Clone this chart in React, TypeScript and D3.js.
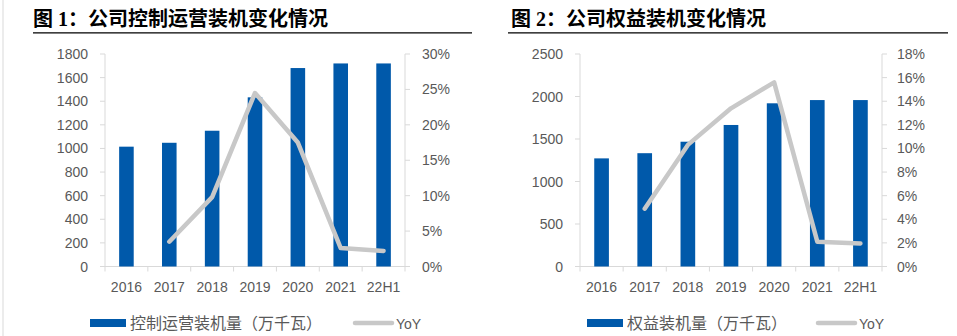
import React from "react";
import * as d3 from "d3";

const categories = ["2016", "2017", "2018", "2019", "2020", "2021", "22H1"];

const controlCapacity = [1015, 1048, 1150, 1433, 1681, 1720, 1720];
const controlYoY: (number | null)[] = [null, 3.5, 9.8, 24.5, 17.5, 2.6, 2.2];
const controlLeftTicks = [0, 200, 400, 600, 800, 1000, 1200, 1400, 1600, 1800];
const controlRightTicks = [0, 5, 10, 15, 20, 25, 30];

const equityCapacity = [1272, 1333, 1468, 1665, 1920, 1958, 1958];
const equityYoY: (number | null)[] = [null, 4.9, 10.3, 13.4, 15.6, 2.1, 1.95];
const equityLeftTicks = [0, 500, 1000, 1500, 2000, 2500];
const equityRightTicks = [0, 2, 4, 6, 8, 10, 12, 14, 16, 18];

const BAR = "#0059aa";
const LINE = "#c8c8c8";
const AXIS = "#d9d9d9";
const TEXT = "#595959";
const LATIN = "'Liberation Sans', Arial, 'Noto Sans CJK SC', sans-serif";
const CJK = "'Noto Sans CJK SC', sans-serif";

type ChartProps = {
  title: string;
  titleX: number;
  ruleX0: number;
  ruleX1: number;
  x0: number;
  x1: number;
  values: number[];
  yoy: (number | null)[];
  leftTicks: number[];
  rightTicks: number[];
  leftLabelGap: number;
  rightLabelGap: number;
  legendLabel: string;
  legendX: number;
  yoyLegendX: number;
};

function Chart(p: ChartProps) {
  const yTop = 54;
  const yBase = 266.5;
  const x = d3
    .scaleBand<string>()
    .domain(categories)
    .range([p.x0, p.x1])
    .paddingInner(0.66)
    .paddingOuter(0.33);
  const yL = d3
    .scaleLinear()
    .domain([0, p.leftTicks[p.leftTicks.length - 1]])
    .range([yBase, yTop]);
  const yR = d3
    .scaleLinear()
    .domain([0, p.rightTicks[p.rightTicks.length - 1]])
    .range([yBase, yTop]);
  const step = x.step();
  const line = d3
    .line<[string, number | null]>()
    .defined((d) => d[1] != null)
    .x((d) => (x(d[0]) as number) + x.bandwidth() / 2)
    .y((d) => yR(d[1] as number));
  const pts = categories.map((c, i) => [c, p.yoy[i]] as [string, number | null]);
  const bounds = d3.range(categories.length + 1).map((i) => p.x0 + i * step);

  return (
    <g>
      <text
        x={p.titleX}
        y={26}
        fontFamily={"'Liberation Serif', 'Noto Sans CJK SC', serif"}
        fontWeight="bold"
        fontSize={20}
        fill="#000"
      >
        {p.title}
      </text>
      <line x1={p.ruleX0} x2={p.ruleX1} y1={32.8} y2={32.8} stroke="#000" strokeWidth={1.3} />

      {/* axes */}
      <line x1={p.x0} x2={p.x0} y1={yTop} y2={yBase} stroke={AXIS} strokeWidth={1} />
      <line x1={p.x1} x2={p.x1} y1={yTop} y2={yBase} stroke={AXIS} strokeWidth={1} />
      <line x1={p.x0} x2={p.x1} y1={yBase} y2={yBase} stroke={AXIS} strokeWidth={1} />
      {p.leftTicks.map((t) => (
        <g key={"l" + t}>
          <line x1={p.x0 - 5} x2={p.x0} y1={yL(t)} y2={yL(t)} stroke={AXIS} />
          <text
            x={p.x0 - p.leftLabelGap}
            y={yL(t) + 5}
            textAnchor="end"
            fontFamily={LATIN}
            fontSize={14}
            fill={TEXT}
          >
            {t}
          </text>
        </g>
      ))}
      {p.rightTicks.map((t) => (
        <g key={"r" + t}>
          <line x1={p.x1} x2={p.x1 + 5} y1={yR(t)} y2={yR(t)} stroke={AXIS} />
          <text
            x={p.x1 + p.rightLabelGap}
            y={yR(t) + 5}
            textAnchor="start"
            fontFamily={LATIN}
            fontSize={14}
            fill={TEXT}
          >
            {t + "%"}
          </text>
        </g>
      ))}
      {bounds.map((b, i) => (
        <line key={"b" + i} x1={b} x2={b} y1={yBase} y2={yBase + 5} stroke={AXIS} />
      ))}
      {categories.map((c) => (
        <text
          key={"c" + c}
          x={(x(c) as number) + x.bandwidth() / 2}
          y={292}
          textAnchor="middle"
          fontFamily={LATIN}
          fontSize={14}
          fill={TEXT}
        >
          {c}
        </text>
      ))}

      {/* bars */}
      {categories.map((c, i) => (
        <rect
          key={"bar" + c}
          x={x(c)}
          y={yL(p.values[i])}
          width={x.bandwidth()}
          height={yBase - yL(p.values[i])}
          fill={BAR}
        />
      ))}
      <path
        d={line(pts) || ""}
        fill="none"
        stroke={LINE}
        strokeWidth={4.5}
        strokeLinejoin="round"
        strokeLinecap="round"
      />

      {/* legend */}
      <rect x={p.legendX} y={319} width={36} height={8} fill={BAR} />
      <text x={p.legendX + 40} y={329} fontFamily={CJK} fontSize={16} fill={TEXT}>
        {p.legendLabel}
      </text>
      <line
        x1={p.yoyLegendX}
        x2={p.yoyLegendX + 37}
        y1={323}
        y2={323}
        stroke={LINE}
        strokeWidth={4.5}
        strokeLinecap="round"
      />
      <text x={p.yoyLegendX + 41} y={329} fontFamily={LATIN} fontSize={14} fill={TEXT}>
        YoY
      </text>
    </g>
  );
}

export default function App() {
  return (
    <svg
      width={957}
      height={336}
      style={{ position: "absolute", left: 0, top: 0, background: "#fff" }}
    >
      <rect x={0} y={0} width={957} height={336} fill="#fff" />
      <line x1={3} x2={3} y1={0} y2={336} stroke={AXIS} strokeWidth={1} />
      <Chart
        title="图 1：公司控制运营装机变化情况"
        titleX={33}
        ruleX0={33}
        ruleX1={472}
        x0={105}
        x1={405}
        values={controlCapacity}
        yoy={controlYoY}
        leftTicks={controlLeftTicks}
        rightTicks={controlRightTicks}
        leftLabelGap={17}
        rightLabelGap={17}
        legendLabel="控制运营装机量（万千瓦）"
        legendX={90}
        yoyLegendX={355}
      />
      <Chart
        title="图 2：公司权益装机变化情况"
        titleX={511}
        ruleX0={508}
        ruleX1={948}
        x0={580}
        x1={882}
        values={equityCapacity}
        yoy={equityYoY}
        leftTicks={equityLeftTicks}
        rightTicks={equityRightTicks}
        leftLabelGap={17}
        rightLabelGap={15}
        legendLabel="权益装机量（万千瓦）"
        legendX={587}
        yoyLegendX={818}
      />
    </svg>
  );
}
